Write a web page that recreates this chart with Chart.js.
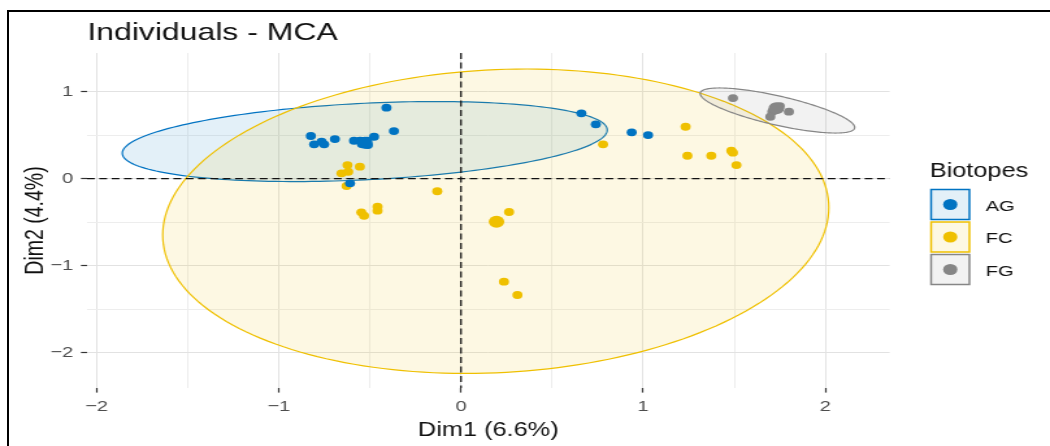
<!DOCTYPE html>
<html><head><meta charset="utf-8">
<script src="https://cdn.jsdelivr.net/npm/chart.js@4.4.1/dist/chart.umd.min.js"></script>
<style>
html,body{margin:0;padding:0;background:#fff;overflow:hidden;width:1050px;height:446px;}
#wrap{position:absolute;left:0;top:0;width:808px;height:446px;transform:scaleX(1.29950495);transform-origin:0 0;}
#frame{position:absolute;left:7px;top:10px;width:1100px;height:500px;border-top:2px solid #000;border-left:2px solid #000;pointer-events:none;}
</style></head>
<body>
<div id="wrap"><canvas id="c" width="808" height="446"></canvas></div>
<div id="frame"></div>
<script>
// ---------------- data ----------------
const groups = ['AG', 'FC', 'FG'];
const groupColors = ['#0073C2', '#EFC000', '#868686'];

const agX = [-0.824, -0.806, -0.765, -0.751, -0.692, -0.587, -0.554, -0.544, -0.516, -0.511, -0.477, -0.409, -0.368, -0.609, 0.661, 0.740, 0.937, 1.027];
const agY = [0.489, 0.393, 0.423, 0.393, 0.454, 0.434, 0.434, 0.397, 0.434, 0.385, 0.480, 0.814, 0.546, -0.055, 0.749, 0.623, 0.531, 0.500];

const fcX = [-0.623, -0.555, -0.656, -0.619, -0.628, -0.130, -0.547, -0.532, -0.458, -0.458, 0.264, 0.236, 0.310, 0.780, 1.233, 1.243, 1.374, 1.484, 1.493, 1.512];
const fcY = [0.155, 0.136, 0.060, 0.078, -0.086, -0.146, -0.389, -0.428, -0.324, -0.370, -0.385, -1.186, -1.339, 0.393, 0.595, 0.262, 0.262, 0.320, 0.297, 0.155];

const fgX = [1.493, 1.709, 1.800, 1.698, 1.750, 1.720];
const fgY = [0.925, 0.768, 0.768, 0.710, 0.833, 0.800];

// group mean points
const meanX = [-0.528, 0.195, 1.731];
const meanY = [0.411, -0.497, 0.807];

// confidence ellipses: centre, half extents, correlation
const ellCx = [-0.528, 0.191, 1.737];
const ellCy = [0.425, -0.491, 0.782];
const ellSx = [1.331, 1.828, 0.424];
const ellSy = [0.460, 1.750, 0.259];
const ellR  = [0.29, 0.09, -0.75];

const xTicks = [-2, -1, 0, 1, 2];
const yTicks = [-2, -1, 0, 1];
const chartTitle = 'Individuals - MCA';
const xTitle = 'Dim1 (6.6%)';
const yTitle = 'Dim2 (4.4%)';
const legendTitle = 'Biotopes';

// ---------------- helpers ----------------
const FONT = '"Liberation Sans", Arial, sans-serif';
function rgba(hex, a) {
  const n = parseInt(hex.slice(1), 16);
  return `rgba(${(n >> 16) & 255},${(n >> 8) & 255},${n & 255},${a})`;
}
function withMinor(t) {
  const out = [];
  for (let i = 0; i < t.length; i++) {
    out.push(t[i]);
    if (i < t.length - 1) out.push((t[i] + t[i + 1]) / 2);
  }
  return out;
}
const fmt = v => (v < 0 ? '\u2212' + Math.abs(v) : String(v));
const pts = (xs, ys) => xs.map((v, i) => ({ x: v, y: ys[i] }));

const ellipsePlugin = {
  id: 'ellipses',
  beforeDatasetsDraw(chart) {
    const { ctx, chartArea: ca, scales: { x, y } } = chart;
    ctx.save();
    ctx.beginPath();
    ctx.rect(ca.left, ca.top, ca.right - ca.left, ca.bottom - ca.top);
    ctx.clip();
    for (let g = 0; g < groups.length; g++) {
      const r = ellR[g], q = Math.sqrt(1 - r * r);
      ctx.beginPath();
      for (let k = 0; k <= 200; k++) {
        const t = (k / 200) * Math.PI * 2;
        const dx = ellCx[g] + ellSx[g] * Math.cos(t);
        const dy = ellCy[g] + ellSy[g] * (r * Math.cos(t) + q * Math.sin(t));
        const px = x.getPixelForValue(dx), py = y.getPixelForValue(dy);
        if (k === 0) ctx.moveTo(px, py); else ctx.lineTo(px, py);
      }
      ctx.closePath();
      ctx.fillStyle = rgba(groupColors[g], 0.11);
      ctx.fill();
      ctx.strokeStyle = groupColors[g];
      ctx.lineWidth = 1.2;
      ctx.stroke();
    }
    // reference lines at 0
    ctx.strokeStyle = '#111';
    ctx.lineWidth = 1.3;
    ctx.setLineDash([6, 3.5]);
    const x0 = x.getPixelForValue(0), y0 = y.getPixelForValue(0);
    ctx.beginPath();
    ctx.moveTo(ca.left, y0); ctx.lineTo(ca.right, y0);
    ctx.moveTo(x0, ca.top); ctx.lineTo(x0, ca.bottom);
    ctx.stroke();
    ctx.restore();
  }
};

const decorPlugin = {
  id: 'decor',
  afterDraw(chart) {
    const { ctx } = chart;
    ctx.save();
    // title
    ctx.fillStyle = '#111';
    ctx.font = `24.6px ${FONT}`;
    ctx.textAlign = 'left';
    ctx.textBaseline = 'alphabetic';
    ctx.fillText(chartTitle, 67.2, 39.5);
    // legend
    ctx.font = `19.5px ${FONT}`;
    ctx.fillText(legendTitle, 715.4, 177);
    for (let g = 0; g < groups.length; g++) {
      const top = 189.5 + g * 32.5, left = 716.5, w = 29.5, h = 30;
      ctx.fillStyle = rgba(groupColors[g], 0.11);
      ctx.fillRect(left, top, w, h);
      ctx.strokeStyle = groupColors[g];
      ctx.lineWidth = 1.5;
      ctx.strokeRect(left, top, w, h);
      ctx.fillStyle = groupColors[g];
      ctx.beginPath();
      ctx.arc(left + w / 2, top + h / 2, 5.5, 0, Math.PI * 2);
      ctx.fill();
      ctx.fillStyle = '#111';
      ctx.font = `15.5px ${FONT}`;
      ctx.fillText(groups[g], 758.5, top + h / 2 + 6);
    }
    ctx.restore();
  }
};

const xAll = withMinor(xTicks), yAll = withMinor(yTicks);

const datasets = [];
for (let g = 0; g < groups.length; g++) {
  datasets.push({
    label: groups[g] + ' mean',
    data: [{ x: meanX[g], y: meanY[g] }],
    pointRadius: 6, pointBackgroundColor: groupColors[g], pointBorderWidth: 0, pointBorderColor: groupColors[g]
  });
}
const grpX = [agX, fcX, fgX], grpY = [agY, fcY, fgY];
for (let g = 0; g < groups.length; g++) {
  datasets.push({
    label: groups[g],
    data: pts(grpX[g], grpY[g]),
    pointRadius: 3.9, pointBackgroundColor: groupColors[g], pointBorderWidth: 0, pointBorderColor: groupColors[g]
  });
}

function axisOpts(ticksArr, allArr, title, fitFn, titlePad, tickPad) {
  return {
    type: 'linear',
    afterBuildTicks: s => { s.ticks = allArr.map(v => ({ value: v })); },
    afterFit: fitFn,
    ticks: {
      autoSkip: false,
      maxRotation: 0,
      padding: tickPad,
      color: '#4d4d4d',
      font: { family: FONT, size: 15.5 },
      callback: v => (ticksArr.includes(v) ? fmt(v) : '')
    },
    grid: {
      color: c => (c.tick && ticksArr.includes(c.tick.value) ? '#e2e2e2' : '#ededed'),
      lineWidth: 1,
      drawTicks: true,
      tickLength: 4.6,
      tickWidth: 1.2,
      tickColor: c => (c.tick && ticksArr.includes(c.tick.value) ? '#333' : 'rgba(0,0,0,0)')
    },
    border: { display: false },
    title: { display: true, text: title, color: '#111', font: { family: FONT, size: 19.5 }, padding: titlePad }
  };
}

const xScale = axisOpts(xTicks, xAll, xTitle, s => { s.height = 58; }, { top: 0, bottom: 3.8 }, 5);
xScale.position = 'bottom';
xScale.min = -2.053; xScale.max = 2.353;
const yScale = axisOpts(yTicks, yAll, yTitle, s => { s.width = 66.9; }, { top: 15.8, bottom: 0 }, 6);
yScale.position = 'left';
yScale.min = -2.408; yScale.max = 1.443;

new Chart(document.getElementById('c'), {
  type: 'scatter',
  data: { datasets },
  options: {
    responsive: false,
    animation: false,
    events: [],
    layout: { padding: { left: 0, top: 53, right: 123.4, bottom: 0 } },
    plugins: { legend: { display: false }, tooltip: { enabled: false }, title: { display: false } },
    scales: { x: xScale, y: yScale }
  },
  plugins: [ellipsePlugin, decorPlugin]
});
</script>
</body></html>
